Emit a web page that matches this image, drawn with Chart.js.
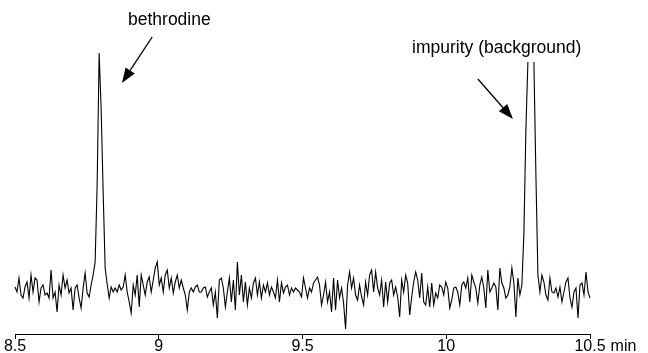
<!DOCTYPE html>
<html>
<head>
<meta charset="utf-8">
<script src="https://cdn.jsdelivr.net/npm/chart.js@4.4.1/dist/chart.umd.min.js"></script>
<style>
  html, body { margin: 0; padding: 0; background: #fff; }
</style>
</head>
<body>
<canvas id="chromChart" width="648" height="353"></canvas>
<script>
// retention time axis (min)
const startTime = 8.5;
const endTime = 10.5;
const xTicks = [8.5, 9, 9.5, 10, 10.5];
const unitLabel = "min";

// detector signal, one reading every 2/287 min (null = off scale)
const signal = [
  47, 42, 56, 39, 36, 47, 52, 36, 59, 42, 56, 54, 32, 46, 49, 39, 41, 36, 64, 36,
  42, 22, 49, 39, 59, 46, 54, 41, 46, 24, 46, 49, 36, 26, 46, 61, 41, 37, 49, 59,
  72, 149, 281, 225, 142, 66, 50, 36, 47, 42, 46, 42, 49, 44, 47, 59, 42, 32, 21, 49,
  39, 59, 27, 59, 49, 39, 52, 57, 42, 54, 66, 72, 49, 56, 42, 59, 64, 46, 56, 41,
  52, 59, 46, 54, 46, 39, 24, 42, 46, 42, 47, 49, 42, 42, 46, 47, 37, 42, 46, 29,
  42, 16, 54, 56, 46, 27, 42, 56, 32, 54, 24, 72, 39, 59, 32, 52, 29, 46, 36, 51,
  56, 39, 52, 36, 49, 42, 51, 39, 47, 42, 36, 54, 32, 51, 41, 47, 49, 39, 46, 42,
  46, 44, 42, 37, 56, 46, 36, 46, 42, 51, 54, 57, 49, 29, 39, 52, 32, 42, 22, 56,
  24, 54, 36, 46, 31, 5, 49, 62, 46, 56, 39, 34, 49, 37, 29, 52, 39, 59, 64, 42,
  62, 46, 39, 54, 27, 52, 32, 51, 54, 39, 47, 37, 17, 54, 42, 59, 51, 19, 37, 52,
  62, 54, 36, 61, 32, 29, 47, 27, 51, 29, 41, 36, 49, 47, 39, 52, 46, 26, 34, 46,
  47, 42, 29, 49, 52, 46, 56, 32, 59, 52, 46, 31, 49, 57, 46, 26, 64, 42, 46, 51,
  47, 24, 66, 51, 46, 36, 39, 47, 66, 51, 17, 56, 39, 49, 100, 204, 272, null, null, 272,
  159, 59, 42, 59, 52, 39, 34, 56, 42, 41, 46, 37, 47, 32, 42, 52, 56, 36, 27, 42,
  46, 16, 49, 51, 39, 62, 42, 36
];
const signalMax = 281;

// peak annotations, in (time, signal) units
const peakNames = ["bethrodine", "impurity (background)"];
const nameAt = [[8.893, 309], [9.881, 281]];
const arrowFrom = [[8.977, 297], [10.110, 255]];
const arrowTo = [[8.872, 251], [10.232, 215]];

let points = signal.map(function (v, i) {
  return { x: startTime + (i * (endTime - startTime)) / (signal.length - 1), y: v };
});

const fontFamily = '"Liberation Sans", Arial, Helvetica, sans-serif';

function drawArrow(ctx, x1, y1, x2, y2) {
  let ang = Math.atan2(y2 - y1, x2 - x1);
  let headLen = 15;
  let headHalf = 5.5;
  let bx = x2 - headLen * Math.cos(ang);
  let by = y2 - headLen * Math.sin(ang);
  ctx.beginPath();
  ctx.moveTo(x1, y1);
  ctx.lineTo(bx, by);
  ctx.lineWidth = 1.3;
  ctx.stroke();
  ctx.beginPath();
  ctx.moveTo(x2, y2);
  ctx.lineTo(bx + headHalf * Math.sin(ang), by - headHalf * Math.cos(ang));
  ctx.lineTo(bx - headHalf * Math.sin(ang), by + headHalf * Math.cos(ang));
  ctx.closePath();
  ctx.fill();
}

const annotatePlugin = {
  id: "annotate",
  afterDraw(chart) {
    let ctx = chart.ctx;
    let xs = chart.scales.x;
    let ys = chart.scales.y;
    ctx.save();
    ctx.fillStyle = "#000";
    ctx.strokeStyle = "#000";
    ctx.textAlign = "left";
    ctx.textBaseline = "alphabetic";
    ctx.font = "17.5px " + fontFamily;

    peakNames.forEach(function (name, k) {
      ctx.fillText(name, xs.getPixelForValue(nameAt[k][0]), ys.getPixelForValue(nameAt[k][1]));
      drawArrow(
        ctx,
        xs.getPixelForValue(arrowFrom[k][0]), ys.getPixelForValue(arrowFrom[k][1]),
        xs.getPixelForValue(arrowTo[k][0]), ys.getPixelForValue(arrowTo[k][1])
      );
    });

    // unit written after the last tick label
    ctx.font = "16px " + fontFamily;
    let last = xTicks[xTicks.length - 1];
    let lastW = ctx.measureText(String(last)).width;
    ctx.textBaseline = "middle";
    ctx.fillText(unitLabel, xs.getPixelForValue(last) + lastW / 2 + 5, xs.top + 5 + (16 * 0.9) / 2);
    ctx.restore();
  },
};

let ctx = document.getElementById("chromChart").getContext("2d");
let myChart = new Chart(ctx, {
  type: "line",
  data: {
    datasets: [
      {
        data: points,
        borderColor: "#000",
        borderWidth: 1.1,
        pointRadius: 0,
        tension: 0,
        fill: false,
        spanGaps: false,
        clip: 4,
      },
    ],
  },
  options: {
    responsive: false,
    animation: false,
    devicePixelRatio: 1,
    layout: { padding: { top: 53, left: 15, right: 58, bottom: 0 } },
    plugins: {
      legend: { display: false },
      tooltip: { enabled: false },
    },
    scales: {
      x: {
        type: "linear",
        min: startTime,
        max: endTime,
        afterBuildTicks: function (scale) {
          scale.ticks = xTicks.map((v) => ({ value: v }));
        },
        afterFit: function (scale) {
          scale.height = 19;
        },
        grid: {
          drawOnChartArea: false,
          drawTicks: true,
          tickLength: 5,
          color: "#000",
          lineWidth: 1,
        },
        border: { display: true, color: "#000", width: 1 },
        ticks: {
          color: "#000",
          padding: 0,
          maxRotation: 0,
          autoSkip: false,
          font: { family: fontFamily, size: 16, lineHeight: 0.9 },
          callback: function (value) {
            return String(value);
          },
        },
      },
      y: { display: false, min: 0, max: signalMax },
    },
  },
  plugins: [annotatePlugin],
});
</script>
</body>
</html>
